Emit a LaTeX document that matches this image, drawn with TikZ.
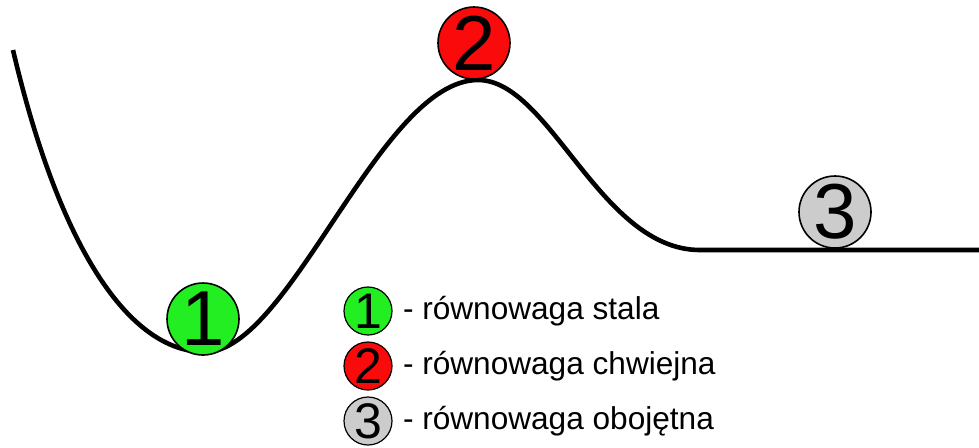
\documentclass[tikz,border=0pt]{standalone}
\usepackage{fontspec}
\setmainfont{Liberation Sans}
\usetikzlibrary{positioning}
\definecolor{ballgreen}{RGB}{34,238,34}
\definecolor{ballred}{RGB}{250,10,10}
\definecolor{ballgray}{RGB}{204,204,204}
\tikzset{
  ball/.style={
    circle,
    draw,
    line width=0.8pt,
    inner sep=0pt,
    minimum size=36pt,
    font=\fontsize{39}{39}\selectfont
  },
  smallball/.style={
    circle,
    draw,
    line width=0.6pt,
    inner sep=0pt,
    minimum size=24pt,
    font=\fontsize{25}{25}\selectfont
  },
  legend/.style={font=\fontsize{15.8}{15.8}\selectfont, anchor=west, inner sep=0pt},
  hill/.style={line width=2.3pt}
}
\begin{document}
\begin{tikzpicture}[x=0.5pt,y=-0.5pt]
\useasboundingbox (0,0) rectangle (979,447);
\draw[hill] (13,50) .. controls (60,250) and (130,352) .. (205,352)
  .. controls (290,352) and (380,80) .. (478,80)
  .. controls (550,80) and (600,250) .. (700,250) -- (979,250);
\node[ball, fill=ballgreen] (stable) at (203,319) {1};
\node[ball, fill=ballred] (unstable) at (474,43) {2};
\node[ball, fill=ballgray] (neutral) at (835,212) {3};
\node[smallball, fill=ballgreen] (key1) at (368,311) {1};
\node[smallball, fill=ballred] (key2) at (368,366) {2};
\node[smallball, fill=ballgray] (key3) at (368,421) {3};
\node[legend, right=5pt of key1] (text1) {- równowaga stala};
\node[legend, right=5pt of key2] (text2) {- równowaga chwiejna};
\node[legend, right=5pt of key3] (text3) {- równowaga obojętna};
\end{tikzpicture}
\end{document}
